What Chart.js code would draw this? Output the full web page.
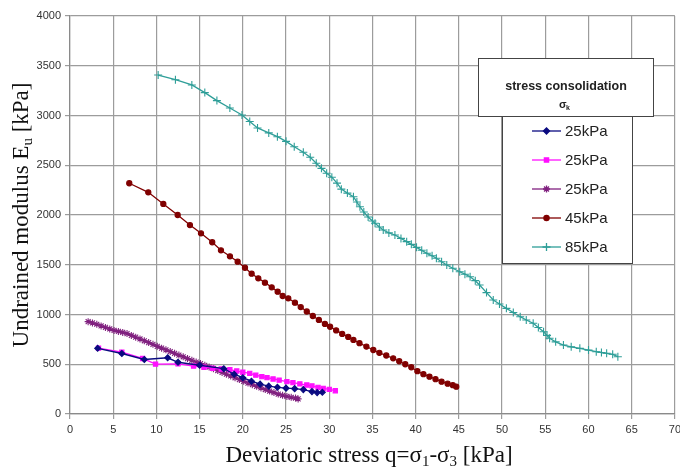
<!DOCTYPE html>
<html>
<head>
<meta charset="utf-8">
<script src="https://cdn.jsdelivr.net/npm/chart.js@4/dist/chart.umd.min.js"></script>
<style>
  html, body { margin: 0; padding: 0; background: #fff; }
  #wrap { width: 680px; height: 468px; position: relative; }
</style>
</head>
<body>
<div id="wrap"><canvas id="modulusChart"></canvas></div>
<script>
// Tick setup
const xTicks = { min: 0, max: 70, step: 5 };
const yTicks = { min: 0, max: 4000, step: 500 };

// Series names (legend)
const seriesNames = ['25kPa', '25kPa', '25kPa', '45kPa', '85kPa'];

// 25kPa (navy diamonds)
const q25a = [3.2, 6.0, 8.6, 11.3, 12.5, 15.0, 17.8, 19.0, 20.0, 21.0, 22.0, 23.0, 24.0, 25.0, 26.0, 27.0, 28.0, 28.6, 29.2];
const e25a = [660, 608, 548, 565, 520, 490, 455, 400, 365, 330, 300, 280, 268, 260, 255, 245, 225, 215, 218];

// 25kPa (magenta squares)
const q25b = [3.3, 6.0, 8.4, 9.9, 12.5, 14.3, 15.5, 16.5, 17.5, 18.5, 19.3, 20.0, 20.8, 21.5, 22.2, 22.8, 23.5, 24.2, 25.1, 25.8, 26.6, 27.4, 28.0, 28.7, 29.3, 30.0, 30.7];
const e25b = [662, 622, 558, 502, 503, 482, 470, 460, 452, 445, 432, 420, 409, 390, 375, 365, 352, 340, 325, 315, 303, 291, 282, 268, 258, 248, 234];

// 25kPa (purple stars)
const q25c = [2.1, 2.6, 3.1, 3.6, 4.1, 4.6, 5.1, 5.6, 6.1, 6.6, 7.1, 7.6, 8.1, 8.6, 9.1, 9.6, 10.1, 10.6, 11.1, 11.6, 12.1, 12.6, 13.1, 13.6, 14.1, 14.6, 15.1, 15.6, 16.1, 16.6, 17.1, 17.6, 18.1, 18.6, 19.1, 19.6, 20.1, 20.6, 21.1, 21.6, 22.1, 22.6, 23.1, 23.6, 24.1, 24.6, 25.1, 25.6, 26.1, 26.4];
const e25c = [928, 915, 902, 885, 870, 855, 840, 830, 820, 808, 790, 772, 754, 736, 718, 700, 680, 662, 645, 628, 610, 592, 575, 557, 540, 522, 507, 490, 472, 455, 437, 418, 400, 382, 364, 346, 328, 311, 294, 278, 262, 246, 230, 215, 200, 188, 176, 168, 160, 152];

// 45kPa (maroon circles)
const q45 = [6.86, 9.06, 10.8, 12.46, 13.88, 15.16, 16.46, 17.47, 18.51, 19.4, 20.25, 21.02, 21.79, 22.56, 23.34, 24.03, 24.61, 25.26, 26.03, 26.7, 27.4, 28.1, 28.8, 29.5, 30.1, 30.8, 31.5, 32.2, 32.8, 33.5, 34.3, 35.1, 35.8, 36.6, 37.4, 38.1, 38.8, 39.5, 40.2, 40.9, 41.6, 42.3, 43.0, 43.7, 44.3, 44.7];
const e45 = [2319, 2228, 2111, 2000, 1899, 1816, 1726, 1645, 1585, 1531, 1470, 1410, 1364, 1320, 1273, 1229, 1186, 1163, 1119, 1075, 1030, 985, 945, 905, 877, 840, 805, 775, 744, 712, 678, 643, 615, 588, 560, 530, 500, 470, 430, 400, 375, 350, 325, 305, 290, 275];

// 85kPa (teal crosses)
const q85 = [10.2, 12.2, 14.1, 15.6, 17.0, 18.5, 19.9, 20.8, 21.7, 23.0, 24.0, 25.0, 25.95, 27.0, 27.8, 28.5, 29.1, 29.7, 30.3, 30.9, 31.4, 32.1, 32.8, 33.2, 33.55, 34.0, 34.5, 35.0, 35.3, 35.8, 36.25, 36.9, 37.6, 38.3, 38.96, 39.5, 40.1, 40.7, 41.3, 41.9, 42.4, 43.0, 43.6, 44.3, 45.1, 45.7, 46.3, 46.9, 47.4, 48.2, 48.98, 49.7, 50.5, 51.3, 52.1, 52.8, 53.6, 54.2, 54.8, 55.2, 55.5, 56.2, 57.1, 58.0, 59.0, 60.0, 60.9, 61.5, 62.1, 62.8, 63.4];
const e85 = [3407, 3360, 3307, 3230, 3150, 3075, 3005, 2940, 2875, 2825, 2787, 2740, 2686, 2630, 2580, 2520, 2469, 2420, 2380, 2320, 2260, 2220, 2184, 2130, 2083, 2030, 1980, 1940, 1917, 1880, 1849, 1820, 1799, 1765, 1732, 1705, 1675, 1645, 1615, 1590, 1565, 1530, 1497, 1465, 1430, 1405, 1380, 1340, 1296, 1220, 1146, 1105, 1062, 1020, 978, 945, 912, 870, 827, 790, 761, 725, 693, 675, 660, 642, 626, 618, 610, 600, 576];

function pts(xs, ys) {
    return xs.map((x, i) => ({ x: x, y: ys[i] }));
}

const styles = [
    { color: '#0a0a80', point: 'rectRot', r: 3 },
    { color: '#ff10ff', point: 'rect', r: 3 },
    { color: '#80207f', point: 'star', r: 3.5 },
    { color: '#800000', point: 'circle', r: 2.6 },
    { color: '#2e9e98', point: 'cross', r: 4 }
];
const seriesData = [pts(q25a, e25a), pts(q25b, e25b), pts(q25c, e25c), pts(q45, e45), pts(q85, e85)];

// Axis titles and legend box drawn by hand (subscripts)
const decorPlugin = {
    id: 'decor',
    afterDraw(chart) {
        const ctx = chart.ctx;
        ctx.save();
        ctx.fillStyle = '#111';
        ctx.textBaseline = 'alphabetic';

        // text runs with subscripts, centered at (0,0)
        function runs(parts, big, small) {
            let w = 0;
            parts.forEach(p => {
                ctx.font = (p.sub ? small : big);
                p.w = ctx.measureText(p.t).width;
                w += p.w;
            });
            let x = -w / 2;
            ctx.textAlign = 'left';
            parts.forEach(p => {
                ctx.font = (p.sub ? small : big);
                ctx.fillText(p.t, x, p.sub ? 12 : 8);
                x += p.w;
            });
        }

        // x title
        ctx.save();
        ctx.translate(369, 454);
        runs([{ t: 'Deviatoric stress q=σ' }, { t: '1', sub: true }, { t: '-σ' }, { t: '3', sub: true }, { t: ' [kPa]' }],
            '23px "Liberation Serif"', '15px "Liberation Serif"');
        ctx.restore();

        // y title
        ctx.save();
        ctx.translate(20, 215);
        ctx.rotate(-Math.PI / 2);
        runs([{ t: 'Undrained modulus E' }, { t: 'u', sub: true }, { t: ' [kPa]' }],
            '23px "Liberation Serif"', '15px "Liberation Serif"');
        ctx.restore();

        // legend items box
        ctx.lineWidth = 1;
        ctx.strokeStyle = '#444';
        ctx.fillStyle = '#fff';
        ctx.fillRect(502.5, 100.5, 130, 163);
        ctx.strokeRect(502.5, 100.5, 130, 163);
        // legend title box
        ctx.fillRect(478.5, 58.5, 175, 58);
        ctx.strokeRect(478.5, 58.5, 175, 58);
        ctx.fillStyle = '#222';
        ctx.textAlign = 'center';
        ctx.font = 'bold 12.5px "Liberation Sans"';
        ctx.fillText('stress consolidation', 566, 90);
        ctx.font = 'bold 11px "Liberation Sans"';
        ctx.textAlign = 'left';
        ctx.fillText('σ', 559, 108);
        ctx.font = 'bold 7px "Liberation Sans"';
        ctx.fillText('k', 566, 110);

        const rows = [131, 160, 189, 218, 247];
        rows.forEach((y, i) => {
            const s = styles[i];
            ctx.strokeStyle = s.color;
            ctx.fillStyle = s.color;
            ctx.lineWidth = 1.3;
            ctx.beginPath();
            ctx.moveTo(532, y);
            ctx.lineTo(561, y);
            ctx.stroke();
            Chart.helpers.drawPoint(ctx, {
                pointStyle: s.point, radius: s.r, borderWidth: 1.2, rotation: 0
            }, 546.5, y);
            ctx.fillStyle = '#222';
            ctx.font = '15px "Liberation Sans"';
            ctx.textAlign = 'left';
            ctx.textBaseline = 'middle';
            ctx.fillText(seriesNames[i], 565, y + 1);
            ctx.textBaseline = 'alphabetic';
        });
        ctx.restore();
    }
};

document.addEventListener('DOMContentLoaded', function() {
    const ctx = document.getElementById('modulusChart').getContext('2d');
    new Chart(ctx, {
        type: 'scatter',
        data: {
            datasets: seriesData.map((d, i) => ({
                label: seriesNames[i],
                data: d,
                showLine: true,
                borderColor: styles[i].color,
                backgroundColor: styles[i].color,
                borderWidth: 1.3,
                pointStyle: styles[i].point,
                pointRadius: styles[i].r,
                pointBorderWidth: 1.1,
                pointBorderColor: styles[i].color,
                pointBackgroundColor: styles[i].color,
                tension: 0
            }))
        },
        options: {
            responsive: true,
            maintainAspectRatio: false,
            animation: false,
            layout: { padding: { top: 16, right: 5, left: 0, bottom: 0 } },
            scales: {
                x: {
                    type: 'linear',
                    min: xTicks.min,
                    max: xTicks.max,
                    afterFit(scale) {
                        scale.height = 54;
                        scale.paddingRight = 0;
                        scale.paddingLeft = 0;
                    },
                    ticks: {
                        stepSize: xTicks.step,
                        color: '#333',
                        font: { family: '"Liberation Sans"', size: 11 },
                        padding: 4,
                        callback: v => String(v)
                    },
                    grid: { color: '#9c9c9c', lineWidth: 1.2, tickLength: 5 },
                    border: { color: '#8a8a8a', width: 1.2 }
                },
                y: {
                    min: yTicks.min,
                    max: yTicks.max,
                    afterFit(scale) {
                        scale.width = 70;
                        scale.paddingTop = 0;
                        scale.paddingBottom = 0;
                    },
                    ticks: {
                        stepSize: yTicks.step,
                        color: '#333',
                        font: { family: '"Liberation Sans"', size: 11 },
                        padding: 4,
                        callback: v => String(v)
                    },
                    grid: { color: '#9c9c9c', lineWidth: 1.2, tickLength: 5 },
                    border: { color: '#8a8a8a', width: 1.2 }
                }
            },
            plugins: {
                legend: { display: false },
                tooltip: { enabled: false }
            }
        },
        plugins: [decorPlugin]
    });
});
</script>
</body>
</html>
